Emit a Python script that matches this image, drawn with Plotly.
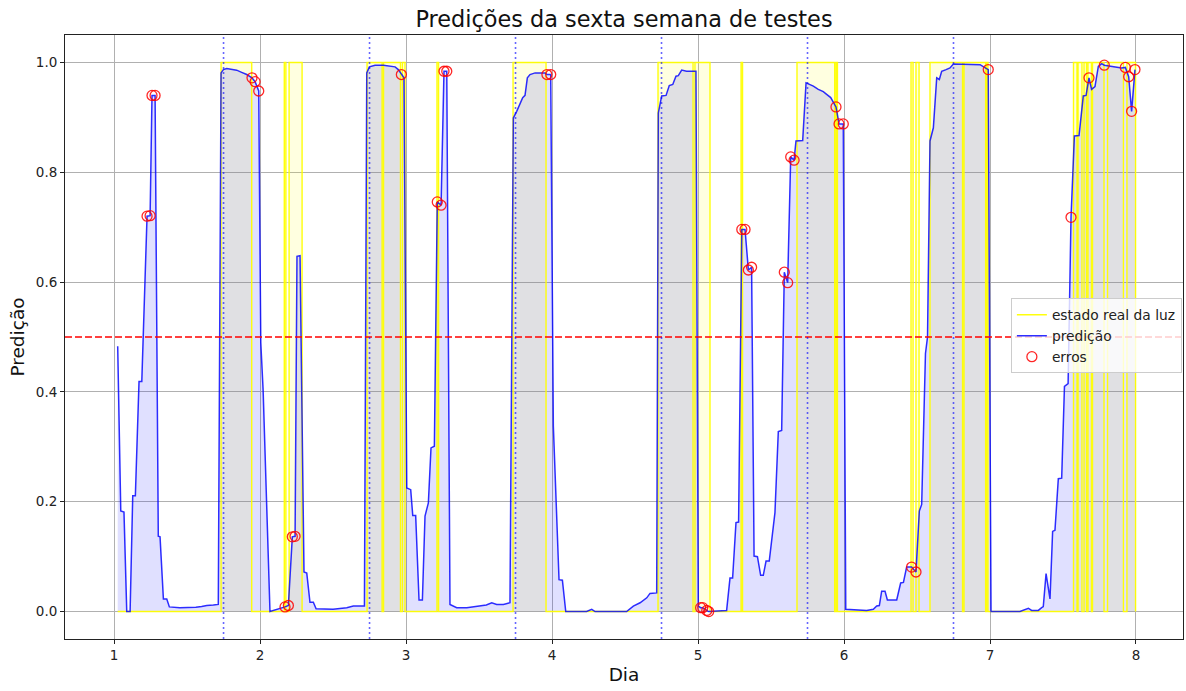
import plotly.graph_objects as go

# ---------------- data ----------------
dia = [1.025, 1.046, 1.068, 1.087, 1.110, 1.128, 1.146, 1.171, 1.190, 1.226, 1.247, 1.260, 1.281,
       1.303, 1.315, 1.338, 1.361, 1.379, 1.450, 1.500, 1.560, 1.600, 1.635, 1.680, 1.714,
       1.733, 1.749, 1.772, 1.806, 1.840, 1.874, 1.909, 1.945, 1.966, 1.991, 2.005, 2.021, 2.068,
       2.171, 2.194, 2.221, 2.240, 2.253, 2.274, 2.301, 2.320, 2.342, 2.365, 2.384, 2.500, 2.594,
       2.639, 2.715, 2.731, 2.749, 2.788, 2.845, 2.890, 2.925, 2.947, 2.968, 2.986, 3.005, 3.032,
       3.046, 3.066, 3.089, 3.112, 3.130, 3.153, 3.171, 3.194, 3.214, 3.240, 3.260, 3.279, 3.301,
       3.324, 3.347, 3.416, 3.507, 3.550, 3.587, 3.621, 3.667, 3.712, 3.735, 3.758, 3.799, 3.815,
       3.831, 3.849, 3.884, 3.952, 3.965, 3.991, 4.009, 4.048, 4.071, 4.094, 4.237, 4.272, 4.295,
       4.511, 4.557, 4.603, 4.649, 4.671, 4.717, 4.728, 4.751, 4.781, 4.803, 4.827, 4.849, 4.865,
       4.888, 4.922, 4.986, 5.002, 5.018, 5.032, 5.060, 5.073, 5.196, 5.219, 5.237, 5.260, 5.278,
       5.300, 5.322, 5.345, 5.367, 5.384, 5.407, 5.429, 5.447, 5.466, 5.488, 5.527, 5.550, 5.573,
       5.591, 5.614, 5.635, 5.658, 5.671, 5.717, 5.740, 5.756, 5.790, 5.824, 5.858, 5.881, 5.909,
       5.945, 5.966, 5.995, 6.012, 6.155, 6.201, 6.224, 6.242, 6.258, 6.281, 6.297, 6.361, 6.388,
       6.407, 6.429, 6.463, 6.493, 6.516, 6.532, 6.558, 6.572, 6.589, 6.612, 6.635, 6.653, 6.669,
       6.699, 6.726, 6.749, 6.817, 6.932, 6.988, 7.007, 7.205, 7.240, 7.263, 7.285, 7.331, 7.354,
       7.365, 7.384, 7.411, 7.429, 7.445, 7.468, 7.491, 7.510, 7.535, 7.555, 7.578, 7.610, 7.639,
       7.658, 7.678, 7.696, 7.719, 7.742, 7.765, 7.783, 7.845, 7.902, 7.927, 7.950, 7.970, 7.993]

predicao = [0.483, 0.183, 0.181, 0.000, 0.000, 0.211, 0.211, 0.419, 0.419, 0.720, 0.721, 0.940, 0.940,
            0.137, 0.136, 0.023, 0.023, 0.0085, 0.007, 0.007, 0.008, 0.009, 0.011, 0.012, 0.013,
            0.981, 0.987, 0.989, 0.988, 0.986, 0.982, 0.978, 0.972, 0.965, 0.948, 0.490, 0.404, 0.000,
            0.0085, 0.011, 0.136, 0.137, 0.647, 0.648, 0.072, 0.070, 0.017, 0.017, 0.005, 0.004, 0.007,
            0.010, 0.010, 0.981, 0.992, 0.995, 0.995, 0.993, 0.992, 0.987, 0.978, 0.972, 0.225, 0.222,
            0.175, 0.175, 0.021, 0.021, 0.174, 0.198, 0.298, 0.301, 0.746, 0.740, 0.984, 0.984, 0.0128,
            0.010, 0.007, 0.007, 0.010, 0.012, 0.016, 0.013, 0.013, 0.016, 0.899, 0.911, 0.936, 0.940,
            0.972, 0.978, 0.981, 0.981, 0.978, 0.978, 0.338, 0.058, 0.057, 0.000, 0.000, 0.004, 0.000,
            0.000, 0.010, 0.016, 0.025, 0.033, 0.034, 0.908, 0.939, 0.940, 0.958, 0.960, 0.975, 0.976,
            0.986, 0.984, 0.984, 0.010, 0.007, 0.007, 0.002, 0.000, 0.002, 0.061, 0.061, 0.162, 0.163,
            0.696, 0.696, 0.622, 0.627, 0.101, 0.100, 0.066, 0.066, 0.092, 0.092, 0.180, 0.328, 0.330,
            0.618, 0.599, 0.828, 0.822, 0.857, 0.858, 0.963, 0.961, 0.957, 0.951, 0.947, 0.942, 0.936,
            0.919, 0.888, 0.888, 0.004, 0.002, 0.004, 0.010, 0.011, 0.037, 0.037, 0.021, 0.021, 0.052,
            0.053, 0.081, 0.081, 0.072, 0.183, 0.195, 0.470, 0.500, 0.857, 0.881, 0.972, 0.969, 0.984,
            0.987, 0.990, 0.997, 0.997, 0.996, 0.987, 0.000, 0.000, 0.004, 0.006, 0.002, 0.002, 0.007,
            0.009, 0.069, 0.023, 0.146, 0.148, 0.242, 0.243, 0.410, 0.415, 0.718, 0.866, 0.867, 0.939,
            0.940, 0.972, 0.951, 0.956, 0.993, 0.998, 0.995, 0.992, 0.990, 0.991, 0.974, 0.911, 0.987]

erros_dia = [1.226, 1.247, 1.260, 1.281, 1.945, 1.966, 1.991, 2.171, 2.194, 2.221, 2.240, 2.968,
             3.214, 3.240, 3.260, 3.279, 3.965, 3.991, 5.018, 5.032, 5.060, 5.073, 5.300, 5.322,
             5.345, 5.367, 5.591, 5.614, 5.635, 5.658, 5.945, 5.966, 5.995, 6.463, 6.493, 6.988,
             7.555, 7.678, 7.783, 7.927, 7.950, 7.970, 7.993]
erros_pred = [0.720, 0.721, 0.940, 0.940, 0.972, 0.965, 0.948, 0.0085, 0.011, 0.136, 0.137, 0.978,
              0.746, 0.740, 0.984, 0.984, 0.978, 0.978, 0.007, 0.007, 0.002, 0.000, 0.696, 0.696,
              0.622, 0.627, 0.618, 0.599, 0.828, 0.822, 0.919, 0.888, 0.888, 0.081, 0.072, 0.987,
              0.718, 0.972, 0.995, 0.991, 0.974, 0.911, 0.987]

# light-on intervals of the real state (start / end, in days)
luz_inicio = [1.733, 2.166, 2.199, 2.733, 2.846, 2.975, 3.212, 3.733, 4.726, 4.979, 5.295,
              5.678, 5.946, 6.459, 6.493, 6.589, 6.822, 6.976, 7.572, 7.603, 7.644, 7.671,
              7.702, 7.805, 7.938]
luz_fim = [1.943, 2.177, 2.288, 2.836, 2.962, 2.993, 3.223, 3.959, 4.966, 5.082, 5.305,
           5.936, 5.955, 6.473, 6.514, 6.812, 6.970, 6.986, 7.596, 7.630, 7.661, 7.695,
           7.781, 7.914, 7.997]

marcas_dia = [1.75, 2.75, 3.75, 4.75, 5.75, 6.75]
limiar = 0.5
x_ticks = [1, 2, 3, 4, 5, 6, 7, 8]
y_ticks = [0.0, 0.2, 0.4, 0.6, 0.8, 1.0]
y_tick_labels = ["0.0", "0.2", "0.4", "0.6", "0.8", "1.0"]

# ---------------- build step series for the light state ----------------
luz_x = [dia[0]]
luz_y = [0]
for a, b in zip(luz_inicio, luz_fim):
    luz_x += [a, a, b, b]
    luz_y += [0, 1, 1, 0]

FONT = "DejaVu Sans"
fig = go.Figure()

fig.add_trace(go.Scatter(x=luz_x, y=luz_y, mode="lines", fill="tozeroy",
                         fillcolor="rgba(255,255,0,0.12)", line=dict(width=0),
                         showlegend=False, hoverinfo="skip"))
fig.add_trace(go.Scatter(x=dia, y=predicao, mode="lines", fill="tozeroy",
                         fillcolor="rgba(0,0,255,0.12)", line=dict(width=0),
                         showlegend=False, hoverinfo="skip"))
fig.add_trace(go.Scatter(x=luz_x, y=luz_y, mode="lines", name="estado real da luz",
                         line=dict(color="rgba(255,255,0,0.95)", width=1.4)))
fig.add_trace(go.Scatter(x=dia, y=predicao, mode="lines", name="predição",
                         line=dict(color="rgba(0,0,255,0.82)", width=1.5)))
fig.add_trace(go.Scatter(x=erros_dia, y=erros_pred, mode="markers", name="erros",
                         marker=dict(symbol="circle-open", size=10,
                                     color="rgba(255,0,0,0.85)",
                                     line=dict(width=1.3, color="rgba(255,0,0,0.85)"))))

fig.add_hline(y=limiar, line=dict(color="red", width=1.6, dash="7px,3px"))
for m in marcas_dia:
    fig.add_vline(x=m, line=dict(color="rgba(0,0,255,0.6)", width=1.6, dash="2px,3px"))

axis_common = dict(showgrid=True, gridcolor="#b0b0b0", gridwidth=1, zeroline=False,
                   showline=True, linecolor="#222", linewidth=1, mirror=True,
                   ticks="outside", ticklen=4, tickcolor="#222",
                   tickfont=dict(family=FONT, size=13.5, color="#222"))

fig.update_layout(
    width=1186, height=691,
    margin=dict(l=65, r=3, t=35, b=52),
    paper_bgcolor="white", plot_bgcolor="white",
    font=dict(family=FONT, color="#222"),
    title=dict(text="Predições da sexta semana de testes", x=0.5, xref="paper",
               y=1 - 19 / 691, yref="container", yanchor="middle", xanchor="center",
               font=dict(family=FONT, size=22.4, color="#111")),
    xaxis=dict(range=[0.664, 8.322], tickvals=x_ticks, ticktext=[str(t) for t in x_ticks],
               title=dict(text="Dia", font=dict(family=FONT, size=18.5, color="#111"), standoff=5),
               **axis_common),
    yaxis=dict(range=[-0.05, 1.05], tickvals=y_ticks, ticktext=y_tick_labels,
               title=dict(text="Predição", font=dict(family=FONT, size=18.5, color="#111"), standoff=6),
               **axis_common),
    legend=dict(x=0.999, xanchor="right", y=0.502, yanchor="middle",
                bgcolor="rgba(255,255,255,0.8)", bordercolor="#cccccc", borderwidth=1,
                font=dict(family=FONT, size=13.8, color="#222"), tracegroupgap=0),
    showlegend=True,
)

fig.write_html("out.html")
